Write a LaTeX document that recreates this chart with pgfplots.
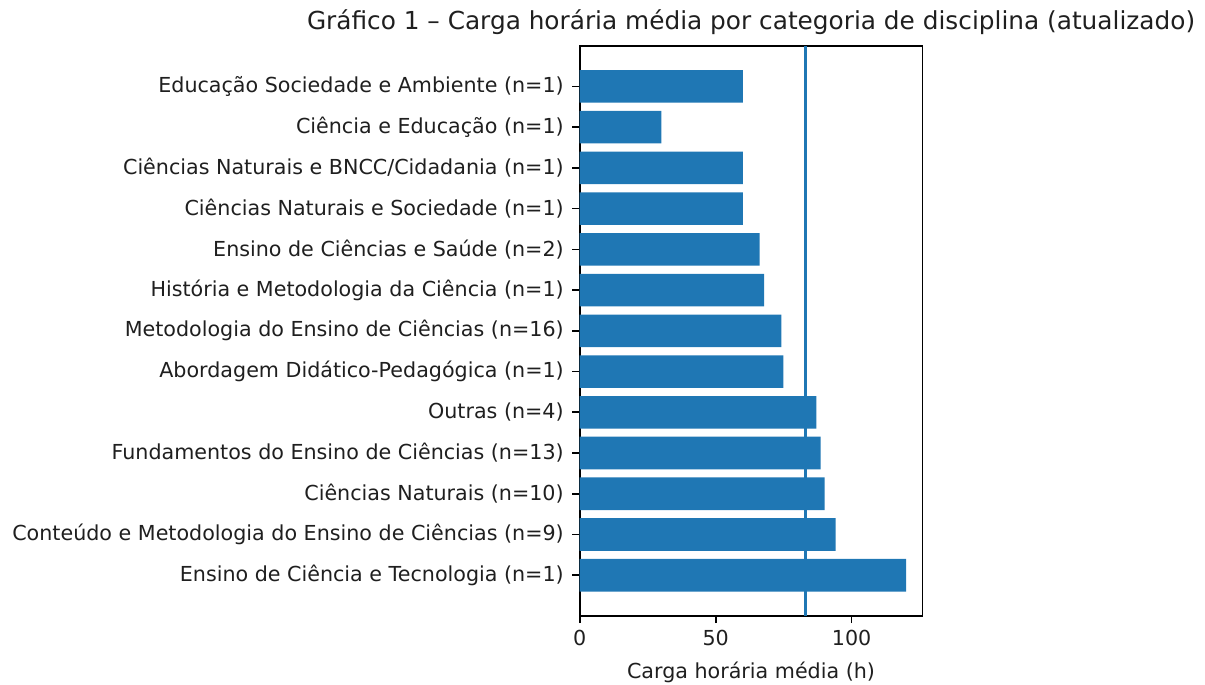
\documentclass[border=0pt]{standalone}
\usepackage{pgfplots}
\pgfplotsset{compat=1.18}
\usepackage{pgfplotstable}
\usepackage{fontspec}
\setmainfont{DejaVu Sans}
\definecolor{mblue}{HTML}{1F77B4}
\pgfplotstableread{
idx val
0 120
1 94.1
2 90.1
3 88.6
4 87
5 74.9
6 74.2
7 67.8
8 66.2
9 60
10 60
11 30
12 60
}\datatable
\begin{document}
\begin{tikzpicture}[x=1pt,y=1pt]
\begin{axis}[
  at={(0pt,0pt)}, anchor=south west,
  scale only axis=true,
  width=246.7pt, height=410.6pt,
  xmin=0, xmax=126,
  ymin=-1, ymax=13,
  xtick={0,50,100},
  ytick={0,...,12},
  yticklabels={
    {Ensino de Ciência e Tecnologia (n=1)},
    {Conteúdo e Metodologia do Ensino de Ciências (n=9)},
    {Ciências Naturais (n=10)},
    {Fundamentos do Ensino de Ciências (n=13)},
    {Outras (n=4)},
    {Abordagem Didático-Pedagógica (n=1)},
    {Metodologia do Ensino de Ciências (n=16)},
    {História e Metodologia da Ciência (n=1)},
    {Ensino de Ciências e Saúde (n=2)},
    {Ciências Naturais e Sociedade (n=1)},
    {Ciências Naturais e BNCC/Cidadania (n=1)},
    {Ciência e Educação (n=1)},
    {Educação Sociedade e Ambiente (n=1)}},
  tick align=outside,
  tick pos=left,
  major tick length=5.2pt,
  tick style={black, line width=1.2pt},
  axis line style={black, line width=1.2pt},
  ticklabel style={font=\fontsize{14.87}{17}\selectfont, text=black!88},
  yticklabel style={xshift=-2.8pt},
  xticklabel style={yshift=-1.5pt},
  /pgf/number format/assume math mode=true,
  xlabel={Carga horária média (h)},
  xlabel style={font=\fontsize{14.87}{17}\selectfont, yshift=-4.5pt, text=black!88},
  title={Gráfico 1 – Carga horária média por categoria de disciplina (atualizado)},
  title style={font=\fontsize{17.84}{20}\selectfont, yshift=-1.5pt, text=black!88},
  clip=true,
]
\addplot[xbar, bar width=0.8, bar shift=0pt, fill=mblue, draw=none] table[x=val, y=idx] {\datatable};
\addplot[mblue, line width=1.6pt] coordinates {(83,-1) (83,13)};
\end{axis}
\pgfresetboundingbox
\path[use as bounding box] (-417.4pt,-49pt) rectangle (450.2pt,443.5pt);
\end{tikzpicture}
\end{document}
